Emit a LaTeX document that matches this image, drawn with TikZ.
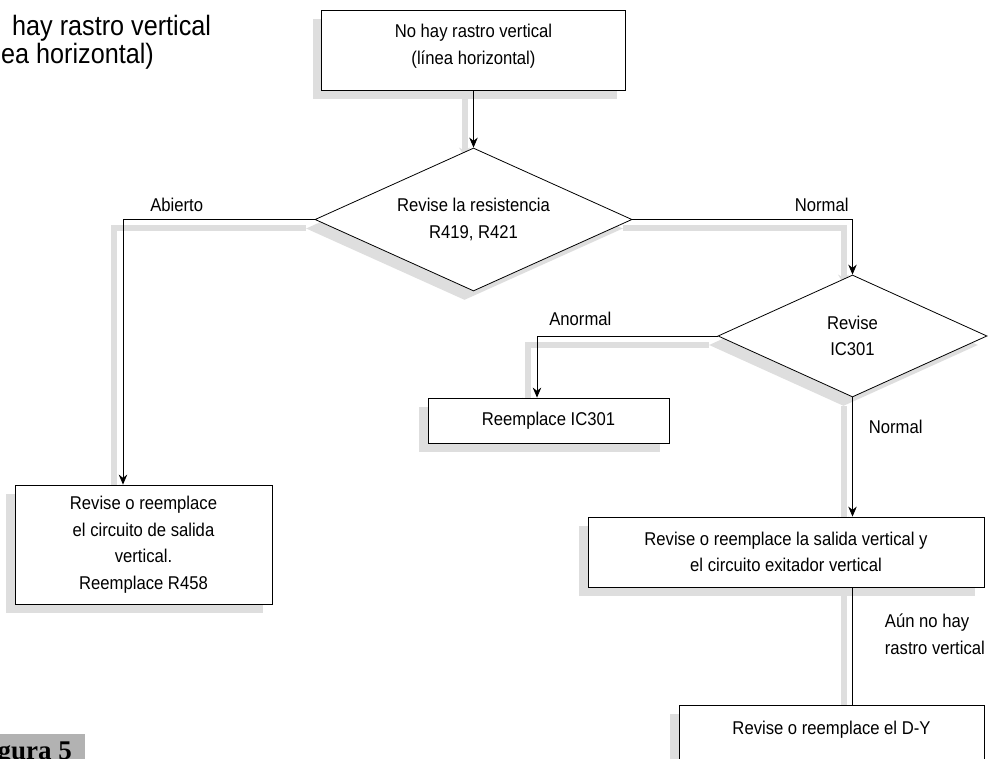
\documentclass[tikz,border=0pt]{standalone}
\usepackage{fontspec}
\setmainfont{Liberation Sans}[FakeStretch=0.9]
\newfontfamily\tagfont{Liberation Serif}
\usetikzlibrary{shapes.geometric,arrows.meta,positioning,shadows,backgrounds,calc}
\definecolor{shadowgray}{gray}{0.87}
\definecolor{tagfill}{gray}{0.70}

\begin{document}
\begin{tikzpicture}[
    x=1pt, y=-1pt,
    every node/.style={font=\fontsize{18.5pt}{26.5pt}\selectfont},
    box/.style={rectangle, draw, fill=white, line width=0.8pt, align=center, inner sep=0pt,
        drop shadow={shadow xshift=-9pt, shadow yshift=-9pt, fill=shadowgray, opacity=1}},
    decision/.style={diamond, draw, fill=white, line width=0.8pt, align=center, inner sep=0pt, shape aspect=2.2,
        drop shadow={shadow xshift=-9pt, shadow yshift=-9pt, fill=shadowgray, opacity=1}},
    arrow/.style={-{Stealth[length=10pt, width=8.5pt]}, line width=0.8pt},
    link/.style={line width=0.8pt},
    ghost/.style={draw=shadowgray, line width=6pt, -{Stealth[length=9pt, width=11pt]}},
    cond/.style={inner sep=0pt}
]
    \path[use as bounding box, clip] (0,0) rectangle (994,759);

    % cut title and figure tag
    \node[anchor=base west, inner sep=0pt, font=\fontsize{28pt}{32pt}\selectfont] (title1) at (12,36) {hay rastro vertical};
    \node[anchor=base west, inner sep=0pt, font=\fontsize{28pt}{32pt}\selectfont] (title2) at (1,64) {ea horizontal)};
    \node[anchor=base east, fill=tagfill, inner xsep=13pt, inner ysep=7.5pt, font=\tagfont\bfseries\fontsize{27pt}{31pt}\selectfont] (figtag) at (85,759) {gura 5};

    % steps
    \node[box, minimum width=304pt, minimum height=80pt] (start) at (473.5,50) {No hay rastro vertical\\(línea horizontal)\rule[-11pt]{0pt}{0pt}};
    \node[decision, minimum width=317pt, minimum height=143pt] (chkres) at (473.5,219.5) {Revise la resistencia\\R419, R421};
    \node[decision, minimum width=269pt, minimum height=122pt] (chkic) at (852.5,336) {Revise\\IC301};
    \node[box, minimum width=257pt, minimum height=119pt] (fixout) at (143.5,544.5) {Revise o reemplace\\el circuito de salida\\vertical.\\Reemplace R458};
    \node[box, minimum width=241pt, minimum height=45pt] (swapic) at (548.5,420.5) {Reemplace IC301};
    \node[box, minimum width=396pt, minimum height=70pt] (fixdrv) at (786,552) {Revise o reemplace la salida vertical y\\el circuito exitador vertical};
    \node[box, minimum width=305pt, text height=18pt, text depth=40pt, inner ysep=11pt, anchor=north] (fixdy) at (831.5,705) {Revise o reemplace el D-Y};

    % connector shadows
    \begin{pgfonlayer}{background}
    \begin{scope}[transform canvas={xshift=-9pt, yshift=-9pt}]
        \draw[ghost] (start) -- (chkres);
        \draw[ghost] (chkres.west) -| ([xshift=-20.5pt]fixout.north);
        \draw[ghost] (chkres.east) -| (chkic.north);
        \draw[ghost] (chkic.west) -| ([xshift=-11.5pt]swapic.north);
        \draw[ghost] (chkic.south) -- (chkic.south |- fixdrv.north);
        \draw[ghost, -] (chkic.south |- fixdrv.south) -- (chkic.south |- fixdy.north);
    \end{scope}
    \end{pgfonlayer}

    % connectors
    \draw[arrow] (start) -- (chkres);
    \draw[arrow] (chkres.west) -| node[cond, above=7pt, pos=0.36] {Abierto} ([xshift=-20.5pt]fixout.north);
    \draw[arrow] (chkres.east) -| node[cond, above=7pt, pos=0.43] {Normal} (chkic.north);
    \draw[arrow] (chkic.west) -| node[cond, above=10pt, pos=0.38] {Anormal} ([xshift=-11.5pt]swapic.north);
    \draw[arrow] (chkic.south) -- node[cond, right=16pt, pos=0.25] {Normal} (chkic.south |- fixdrv.north);
    \draw[link] (chkic.south |- fixdrv.south) -- node[cond, right=32pt, pos=0.4, align=left] {Aún no hay\\rastro vertical} (chkic.south |- fixdy.north);
\end{tikzpicture}
\end{document}
